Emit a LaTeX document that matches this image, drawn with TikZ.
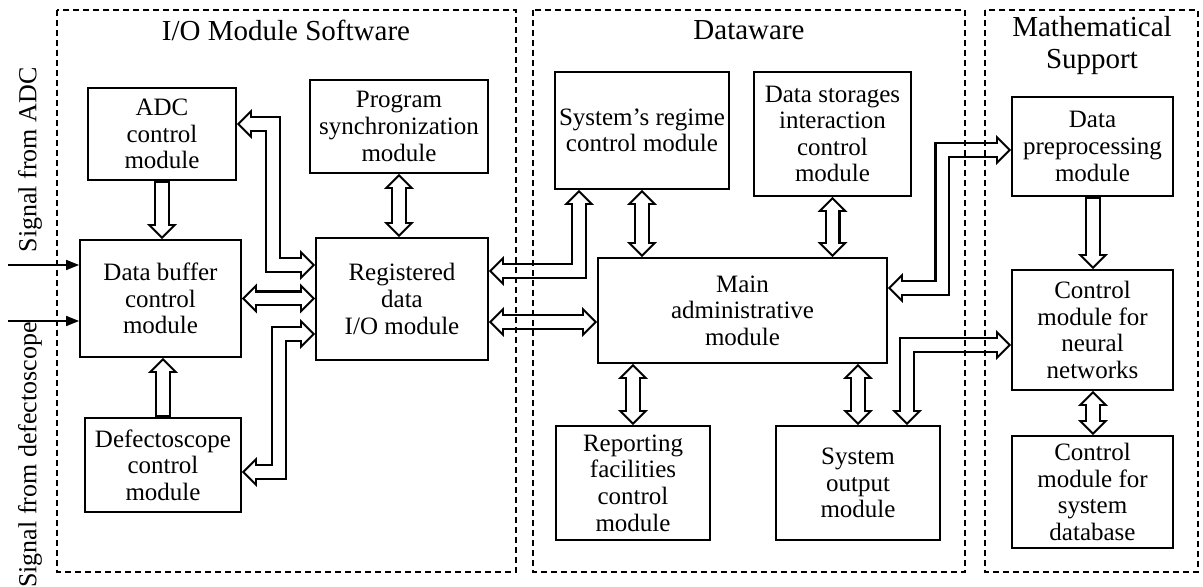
\documentclass[tikz,border=0pt]{standalone}
\usepackage{fontspec}
\setmainfont{Liberation Serif}
\usepackage{tikz}
\usetikzlibrary{arrows.meta}
\usetikzlibrary{calc}

\newcommand{\boxfont}{\fontsize{12.5}{13.3}\selectfont}
\newcommand{\titlefont}{\fontsize{14.5}{16}\selectfont}

\tikzset{
  box/.style={draw, line width=0.9pt, align=center, inner sep=0pt, font=\boxfont},
  panel/.style={draw, line width=0.8pt, dash pattern=on 3pt off 2pt},
  heading/.style={align=center, font=\titlefont},
  signal/.style={line width=0.8pt, -{Triangle[length=6.5pt,width=5pt]}},
  fatout/.style={draw=black, line width=8pt, line join=miter},
  fatin/.style={draw=white, line width=5.9pt, line join=miter, shorten >=1.5pt},
  bigtip/.tip={Triangle[length=7.5pt,width=15pt,line width=0pt]},
  smalltip/.tip={Triangle[length=4.95pt,width=9.9pt,line width=0pt]}
}

% hollow block arrows, drawn twice (outline, then inside)
\newcommand{\twoway}[1]{%
  \draw[fatout,{bigtip}-{bigtip}] #1;
  \draw[fatin,shorten <=1.5pt,{smalltip}-{smalltip}] #1;}
\newcommand{\oneway}[1]{%
  \draw[fatout,-{bigtip}] #1;
  \draw[fatin,shorten <=1.05pt,-{smalltip}] #1;}

\begin{document}
\begin{tikzpicture}[x=0.5pt,y=-0.5pt]
\useasboundingbox (0,0) rectangle (1203,587);

% I/O module software
\node[box, minimum width=74pt, minimum height=46pt] (adc) at (162,134)
     {ADC\\control\\module};
\node[box, minimum width=89pt, minimum height=46.5pt] (sync) at (399,126.5)
     {Program\\synchronization\\module};
\node[box, minimum width=80.5pt, minimum height=58.5pt] (buf) at (160.5,298.5)
     {Data buffer\\control\\module};
\node[box, minimum width=86pt, minimum height=61pt] (reg) at (402,299)
     {Registered\\data\\I/O module};
\node[box, minimum width=78pt, minimum height=47pt] (def) at (163,465)
     {Defectoscope\\control\\module};

% dataware
\node[box, minimum width=87pt, minimum height=58.5pt] (regime) at (642,130.5)
     {System’s regime\\control module};
\node[box, minimum width=78.5pt, minimum height=62pt] (store) at (832.5,134)
     {Data storages\\interaction\\control\\module};
\node[box, minimum width=144.5pt, minimum height=52.5pt] (main) at (742.5,310.5)
     {Main\\administrative\\module};
\node[box, minimum width=77pt, minimum height=57pt] (rep) at (633,483)
     {Reporting\\facilities\\control\\module};
\node[box, minimum width=82pt, minimum height=57pt] (out) at (858,483)
     {System\\output\\module};

% mathematical support
\node[box, minimum width=80.5pt, minimum height=49.5pt] (pre) at (1092.5,146.5)
     {Data\\preprocessing\\module};
\node[box, minimum width=80.5pt, minimum height=60pt] (nn) at (1092.5,330)
     {Control\\module for\\neural\\networks};
\node[box, minimum width=80.5pt, minimum height=56pt] (db) at (1092.5,492)
     {Control\\module for\\system\\database};

% input signals
\node[rotate=90, font=\fontsize{13}{14}\selectfont] (sadc) at (30,160) {Signal from ADC};
\node[rotate=90, font=\fontsize{13}{14}\selectfont] (sdef) at (30,455) {Signal from defectoscope};
\coordinate (ina) at (8,265);
\coordinate (inb) at (8,321);
\draw[signal] (ina) -- (ina -| buf.west);
\draw[signal] (inb) -- (inb -| buf.west);

% block arrows
\oneway{(adc.south) -- (adc.south |- buf.north)}
\oneway{(def.north) -- (def.north |- buf.south)}
\twoway{(sync.south) -- (sync.south |- reg.north)}
\twoway{($(adc.east)+(0,-10)$) -- ++(36,0) |- ($(reg.west)+(0,-34)$)}
\twoway{(buf.east) -- (buf.east -| reg.west)}
\twoway{($(reg.west)+(0,35)$) -- ++(-36,0) |- ($(def.east)+(0,7)$)}
\twoway{($(reg.east)+(0,-28)$) -| ($(regime.south)+(-63,0)$)}
\twoway{($(reg.east)+(0,23)$) -- ($(main.west)+(0,11.5)$)}
\twoway{(regime.south) -- (regime.south |- main.north)}
\twoway{(store.south) -- (store.south |- main.north)}
\twoway{(rep.north |- main.south) -- (rep.north)}
\twoway{(out.north |- main.south) -- (out.north)}
\twoway{($(main.east)+(0,-22.5)$) -- ++(54.5,0) |- ($(pre.west)+(0,3.5)$)}
\twoway{($(out.north)+(49,0)$) |- ($(nn.west)+(0,15)$)}
\oneway{($(pre.south)+(0.5,0)$) -- ($(nn.north)+(0.5,0)$)}
\twoway{($(nn.south)+(0.5,0)$) -- ($(db.north)+(0.5,0)$)}

% panels
\draw[panel] (57,10) rectangle (516,572);
\draw[panel] (533,10) rectangle (965,572);
\draw[panel] (985,10) rectangle (1198,572);
\node[heading] (tio) at (286,30) {I/O Module Software};
\node[heading] (tdw) at (749,30) {Dataware};
\node[heading] (tms) at (1092,46) {Mathematical\\Support};
\end{tikzpicture}
\end{document}
